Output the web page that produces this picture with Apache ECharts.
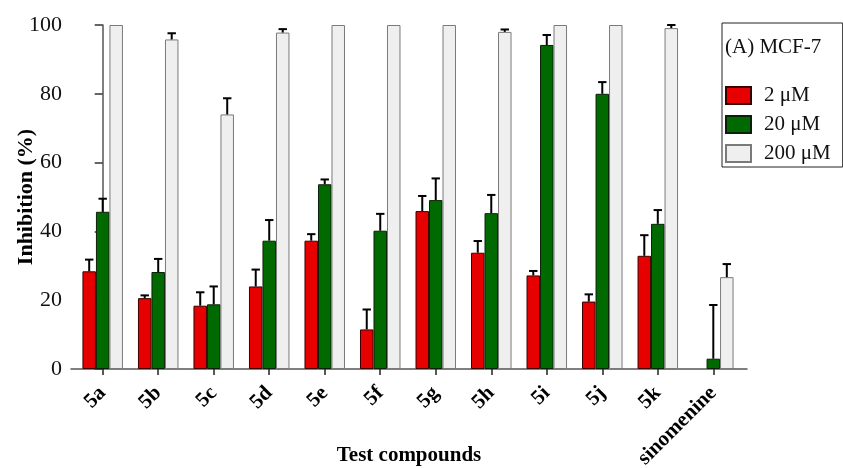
<!DOCTYPE html>
<html>
<head>
<meta charset="utf-8">
<title>MCF-7 inhibition</title>
<script src="https://cdn.jsdelivr.net/npm/echarts@6/dist/echarts.min.js"></script>
<style>
  html, body { margin: 0; padding: 0; background: #ffffff; }
  #chart { width: 843px; height: 468px; }
</style>
</head>
<body>
<div id="chart"></div>
<script>
// Test compounds on the x axis
const categories = ['5a', '5b', '5c', '5d', '5e', '5f', '5g', '5h', '5i', '5j', '5k', 'sinomenine'];

// Mean inhibition (%) at each concentration, with the upper SD
const conc2 = [28.4, 20.6, 18.4, 24.0, 37.3, 11.5, 45.9, 33.8, 27.2, 19.6, 32.9, null];
const conc2Err = [3.4, 0.8, 3.9, 4.9, 1.9, 5.8, 4.4, 3.4, 1.3, 2.1, 6.0, null];

const conc20 = [45.7, 28.2, 18.8, 37.3, 53.7, 40.2, 49.1, 45.3, 94.2, 80.0, 42.2, 3.0];
const conc20Err = [3.8, 3.8, 5.2, 6.0, 1.4, 4.9, 6.3, 5.3, 2.9, 3.4, 4.0, 15.6];

const conc200 = [100, 95.8, 74.0, 97.8, 100, 100, 100, 98.0, 100, 100, 99.1, 26.7];
const conc200Err = [0, 1.8, 4.7, 1.0, 0, 0, 0, 0.7, 0, 0, 0.9, 3.8];

// Y axis ticks
const yTicks = [0, 20, 40, 60, 80, 100];

const seriesNames = ['2 μM', '20 μM', '200 μM'];

const FONT = '"Liberation Serif", "Times New Roman", serif';
const BAR_W = 13.5;
const catIndex = categories.map((_, i) => i);

function barData(values) {
  return values.map((v, i) => (v == null ? [i, null] : [i, v]));
}

function errData(values, errs) {
  const out = [];
  values.forEach((v, i) => {
    if (v != null && errs[i]) out.push([i, v, errs[i]]);
  });
  return out;
}

// Upper error whisker with a short cap, shifted onto its bar within the group
function whisker(offset) {
  return function (params, api) {
    const x = api.value(0);
    const m = api.value(1);
    const e = api.value(2);
    const base = api.coord([x, m]);
    const top = api.coord([x, m + e]);
    const cx = base[0] + offset;
    const style = { stroke: '#000', lineWidth: 2 };
    return {
      type: 'group',
      children: [
        { type: 'line', shape: { x1: cx, y1: base[1], x2: cx, y2: top[1] }, style: style },
        { type: 'line', shape: { x1: cx - 4.2, y1: top[1], x2: cx + 4.2, y2: top[1] }, style: style }
      ]
    };
  };
}

const chart = echarts.init(document.getElementById('chart'), null, { renderer: 'canvas' });

chart.setOption({
  animation: false,
  backgroundColor: '#ffffff',
  textStyle: { fontFamily: FONT },
  title: {
    text: '(A) MCF-7',
    left: 725,
    top: 37,
    padding: 0,
    textStyle: { fontFamily: FONT, fontSize: 21, fontWeight: 'normal', color: '#111' }
  },
  legend: {
    data: seriesNames,
    orient: 'vertical',
    left: 722,
    top: 23,
    padding: [62, 12, 3, 3],
    borderColor: '#222',
    borderWidth: 1,
    itemWidth: 25,
    itemHeight: 17,
    itemGap: 8,
    icon: 'rect',
    textStyle: { fontFamily: FONT, fontSize: 21, color: '#111', padding: [0, 0, 0, 8] }
  },
  grid: { left: 71, top: 25, right: 96, bottom: 99, containLabel: false, outerBoundsMode: 'none' },
  xAxis: {
    type: 'value',
    min: -0.571,
    max: 11.607,
    name: 'Test compounds',
    nameLocation: 'middle',
    nameGap: 76,
    nameMoveOverlap: false,
    nameTextStyle: { fontFamily: FONT, fontSize: 21, fontWeight: 'bold', color: '#000' },
    axisLine: { show: true, lineStyle: { color: '#555', width: 1.5 } },
    axisTick: { show: true, length: 6, customValues: catIndex, lineStyle: { color: '#222', width: 1.5 } },
    axisLabel: {
      customValues: catIndex,
      formatter: (v) => categories[Math.round(v)],
      rotate: 45,
      margin: 21,
      fontFamily: FONT,
      fontSize: 21,
      fontWeight: 'bold',
      color: '#000'
    },
    splitLine: { show: false }
  },
  yAxis: {
    type: 'value',
    min: yTicks[0],
    max: yTicks[yTicks.length - 1],
    interval: 20,
    name: 'Inhibition (%)',
    nameLocation: 'middle',
    nameGap: 34,
    nameMoveOverlap: false,
    nameTextStyle: { fontFamily: FONT, fontSize: 22, fontWeight: 'bold', color: '#000' },
    axisLine: { show: true, lineStyle: { color: '#555', width: 1.5 } },
    axisTick: { show: true, length: 8, lineStyle: { color: '#333', width: 1.5 } },
    axisLabel: { margin: 9, fontFamily: FONT, fontSize: 22, color: '#111' },
    splitLine: { show: false }
  },
  series: [
    {
      name: seriesNames[0],
      type: 'bar',
      barWidth: BAR_W,
      barGap: '0%',
      data: barData(conc2),
      itemStyle: { color: '#e60000', borderColor: '#3a0000', borderWidth: 1 },
      z: 2
    },
    {
      name: seriesNames[1],
      type: 'bar',
      barWidth: BAR_W,
      barGap: '0%',
      data: barData(conc20),
      itemStyle: { color: '#006a00', borderColor: '#0b200b', borderWidth: 1 },
      z: 2
    },
    {
      name: seriesNames[2],
      type: 'bar',
      barWidth: BAR_W,
      barGap: '0%',
      data: barData(conc200),
      itemStyle: { color: '#efefef', borderColor: '#7a7a7a', borderWidth: 1 },
      z: 2
    },
    {
      type: 'custom',
      renderItem: whisker(-BAR_W),
      data: errData(conc2, conc2Err),
      encode: { x: 0, y: 1 },
      silent: true,
      z: 3
    },
    {
      type: 'custom',
      renderItem: whisker(0),
      data: errData(conc20, conc20Err),
      encode: { x: 0, y: 1 },
      silent: true,
      z: 3
    },
    {
      type: 'custom',
      renderItem: whisker(BAR_W),
      data: errData(conc200, conc200Err),
      encode: { x: 0, y: 1 },
      silent: true,
      z: 3
    }
  ]
});
</script>
</body>
</html>
